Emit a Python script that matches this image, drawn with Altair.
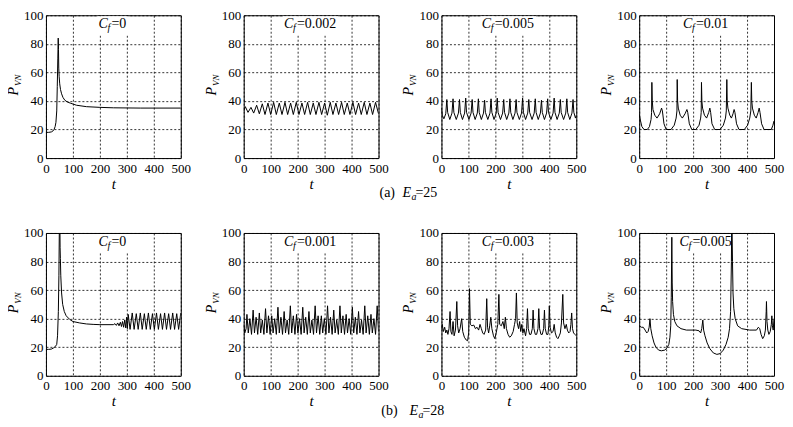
import altair as alt
import pandas as pd

FONT = "Liberation Serif"
T_TICKS = [0, 100, 200, 300, 400, 500]
P_TICKS = [0, 20, 40, 60, 80, 100]

# ---- (a) Ea = 25 ----
A_CF = ["0", "0.002", "0.005", "0.01"]
A1 = [(0, 18), (10, 18), (20, 18.3), (26, 19), (30, 20), (34, 22), (37, 25), (40, 33), (42, 50),
      (44, 70), (45.5, 84), (46.5, 76), (47.5, 63), (49, 57), (51, 52), (54, 48), (58, 45),
      (63, 42.5), (70, 40.5), (80, 39.2), (90, 38.5), (113, 37), (150, 36), (200, 35.5),
      (250, 35.2), (350, 35), (500, 35)]
A2 = [(0, 33), (6, 36), (16, 32), (27, 35.5), (37, 31.5), (48, 37), (58, 31), (69, 38), (79, 30.5),
      (90, 38.5), (100, 30.5), (111, 39), (121, 30.5), (132, 38.5), (142, 30.5), (153, 39),
      (163, 30.5), (174, 38.5), (184, 30.5), (195, 39), (205, 30.5), (216, 38.5), (226, 30.5),
      (237, 39), (247, 30.5), (258, 38.5), (268, 30.5), (279, 39), (289, 30.5), (300, 38.5),
      (310, 30), (321, 39), (331, 30.5), (342, 38.5), (352, 30.5), (363, 39), (373, 30.5),
      (384, 38.5), (394, 30.5), (405, 39), (415, 30.5), (426, 38.5), (436, 30.5), (447, 39),
      (457, 30.5), (468, 38.5), (478, 30.5), (489, 39), (500, 31)]
A3 = [(0, 35), (3, 30), (9, 27.5), (16, 31),
      (20, 41), (23, 32), (31, 27), (39, 31.5), (43, 41.5), (46, 32), (55, 27), (63, 31.5),
      (67, 41), (70, 32), (78, 27), (86, 31.5), (90, 42), (93, 32), (102, 27), (110, 31.5),
      (114, 41), (117, 32), (125, 27), (133, 31.5), (137, 41.5), (140, 32), (148, 27), (156, 31.5),
      (160, 40.5), (163, 32), (172, 27), (180, 31.5), (184, 41.5), (187, 32), (195, 27), (203, 31.5),
      (207, 42), (210, 32), (219, 27), (227, 31.5), (231, 41), (234, 32), (242, 27), (250, 31.5),
      (254, 41.5), (257, 32), (265, 27), (273, 31.5), (277, 41), (280, 32), (289, 27), (297, 31.5),
      (301, 42), (304, 32), (312, 27), (320, 31.5), (324, 41), (327, 32), (336, 27), (344, 31.5),
      (348, 41.5), (351, 32), (359, 27), (367, 31.5), (371, 40.5), (374, 32), (382, 27), (390, 31.5),
      (394, 41.5), (397, 32), (406, 27), (414, 31.5), (418, 42), (421, 32), (429, 27), (437, 31.5),
      (441, 41), (444, 32), (453, 27), (461, 31.5), (465, 41.5), (468, 32), (476, 27), (484, 31.5),
      (488, 41), (491, 32), (497, 28), (500, 30)]
A4 = [(0, 31), (5, 26), (10, 22), (18, 20), (30, 20), (38, 22), (44, 27), (46, 32), (47, 53),
      (48.5, 40), (51, 34), (58, 30), (66, 28), (76, 31), (83, 35), (86, 33), (92, 24), (100, 20),
      (118, 20), (130, 23), (137, 28), (140, 33), (141, 55), (142.5, 40), (145, 35), (152, 30),
      (160, 28), (170, 31), (177, 34), (180, 32), (186, 24), (195, 20), (210, 20), (222, 23),
      (228, 28), (230, 32), (231, 53), (232.5, 40), (235, 35), (242, 30), (250, 28), (258, 32),
      (262, 35), (265, 32), (270, 24), (280, 20), (300, 20), (312, 23), (320, 28), (323, 33),
      (325, 55), (326.5, 40), (329, 35), (336, 30), (342, 28), (348, 31), (352, 34), (355, 32),
      (361, 24), (370, 20), (390, 20), (402, 23), (410, 28), (414, 33), (416, 53), (417.5, 40),
      (420, 35), (427, 30), (434, 28), (441, 32), (445, 35), (448, 32), (454, 24), (463, 20),
      (490, 20), (496, 23), (500, 26)]

# ---- (b) Ea = 28 ----
B_CF = ["0", "0.001", "0.003", "0.005"]
B1 = [(0, 18.5), (10, 18.5), (20, 18.7), (28, 19.5), (35, 20.5), (40, 22), (43, 28), (46, 45),
      (48, 70), (50, 110), (51.5, 110), (52.5, 90), (53.5, 82), (55, 70), (58, 58), (62, 50),
      (68, 45), (75, 42), (88, 39.5), (100, 38), (125, 37), (150, 36.3), (175, 36), (200, 35.8),
      (250, 35.8), (256, 36.5), (261, 35.3), (266, 37), (271, 35), (276, 37.5), (280, 34.5),
      (284, 38), (288, 34), (292, 39), (296, 33.5), (299, 41), (302, 33), (305, 43), (312, 32.5),
      (320, 44), (327, 32.5), (335, 43.5), (342, 32.5), (350, 44), (357, 32.5), (365, 43.5),
      (372, 32.5), (380, 44), (387, 32.5), (395, 43.5), (402, 32.5), (410, 44), (417, 32.5),
      (425, 43.5), (432, 32.5), (440, 44), (447, 32.5), (455, 43.5), (462, 32.5), (470, 44),
      (477, 32.5), (485, 43.5), (492, 32.5), (500, 44)]
B2 = [(0, 36), (4, 30), (9, 33),
      (12, 43), (17, 30), (23, 40), (29, 29), (35, 46), (40, 30), (46, 41), (52, 29),
      (58, 44), (63, 30), (69, 39), (75, 29), (81, 47), (86, 30), (92, 42), (98, 29),
      (104, 42), (109, 30), (115, 40), (121, 29), (127, 48), (132, 30), (138, 41), (144, 29),
      (150, 45), (155, 30), (161, 39), (167, 29), (173, 49), (178, 30), (184, 42), (190, 29),
      (196, 43), (201, 30), (207, 40), (213, 29), (219, 48), (224, 30), (230, 41), (236, 29),
      (242, 45), (247, 30), (253, 39), (259, 29), (265, 49), (270, 30), (276, 42), (282, 29),
      (288, 42), (293, 30), (299, 40), (305, 29), (311, 49), (316, 30), (322, 41), (328, 29),
      (334, 46), (339, 30), (345, 39), (351, 29), (357, 49), (362, 30), (368, 42), (374, 29),
      (380, 43), (385, 30), (391, 40), (397, 29), (403, 48), (408, 30), (414, 41), (420, 29),
      (426, 45), (431, 30), (437, 39), (443, 29), (449, 49), (454, 30), (460, 42), (466, 29),
      (472, 43), (477, 30), (483, 40), (489, 29), (495, 49), (500, 31)]
B3 = [(0, 33), (3, 36), (7, 31), (12, 34), (16, 30), (20, 32), (24, 29), (28, 33), (32, 45), (35, 31),
      (39, 29), (43, 38), (47, 28), (52, 32), (57, 52), (60, 35), (64, 30), (69, 33), (75, 40),
      (79, 31), (85, 27), (92, 25), (97, 24.5), (101, 30), (104, 61), (107, 36), (113, 35),
      (120, 35.5), (126, 33), (132, 34), (138, 32), (143, 36), (148, 33), (153, 30), (158, 29),
      (164, 32), (168, 54), (171, 34), (175, 30), (179, 35), (183, 41), (187, 33), (193, 28),
      (198, 26), (203, 30), (209, 36), (213, 57), (216, 36), (222, 35), (228, 38), (233, 33),
      (237, 41), (241, 33), (247, 29), (253, 27), (259, 28), (266, 31), (271, 36), (275, 40),
      (278, 58), (281, 37), (286, 33), (290, 38), (294, 31), (298, 36), (302, 30), (306, 33),
      (312, 28), (316, 33), (319, 47), (322, 33), (327, 29), (332, 29), (337, 33), (340, 46),
      (343, 33), (348, 29), (353, 29), (358, 33), (361, 47), (364, 33), (369, 29), (374, 29),
      (379, 33), (382, 46), (385, 33), (390, 29), (395, 29), (398, 35), (400, 49), (403, 34),
      (408, 30), (414, 31), (418, 36), (422, 30), (427, 27), (432, 26), (437, 28), (441, 30),
      (445, 37), (450, 57), (453, 37), (458, 33), (463, 36), (467, 32), (472, 30), (477, 31),
      (480, 36), (483, 44), (486, 33), (490, 30), (495, 29), (500, 28)]
B4 = [(0, 35), (8, 34), (15, 34), (22, 32), (28, 30), (33, 31), (37, 34), (40, 40), (43, 33),
      (48, 28), (55, 23), (62, 20), (72, 18), (82, 17.5), (95, 18), (103, 19.5), (110, 22),
      (114, 27), (117, 35), (119, 55), (121, 97), (122.5, 65), (124, 52), (127, 43), (132, 38),
      (140, 35), (155, 33), (175, 32), (210, 32), (222, 31.5), (228, 30), (232, 33), (236, 39),
      (239, 32), (244, 28), (252, 23), (262, 19), (275, 16), (288, 15), (300, 15.5), (312, 18),
      (322, 22), (330, 27), (335, 33), (339, 45), (342, 80), (343, 110), (344, 110), (346, 80),
      (348, 58), (351, 47), (356, 40), (365, 35), (380, 33), (410, 32), (435, 32), (442, 34),
      (447, 33), (452, 29), (458, 26), (464, 28), (468, 32), (471, 45), (472, 52), (474, 38),
      (477, 32), (481, 29), (486, 31), (490, 36), (492, 42), (494, 35), (497, 32), (500, 40)]

CAPTIONS = [("(a)", "25"), ("(b)", "28")]

W, H = 135, 143
CHAR_W = {"=": 7.9, ".": 3.5}


def text_w(s):
    return sum(CHAR_W.get(ch, 7.0) for ch in s)


def one():
    return alt.Chart(pd.DataFrame({"k": [0]}))


def txt(text, x, y, size=14, italic=False, align="left", angle=0):
    kw = dict(text=text, font=FONT, fontSize=size, color="black", align=align,
              baseline="alphabetic", fontStyle="italic" if italic else "normal")
    if angle:
        kw["angle"] = angle
    return one().mark_text(**kw).encode(x=alt.value(x), y=alt.value(y))


def panel(points, cf, caption=None, cap_shift=0):
    df = pd.DataFrame(points, columns=["t", "p"])
    line = alt.Chart(df).mark_line(color="black", strokeWidth=1, clip=True).encode(
        x=alt.X("t:Q", scale=alt.Scale(domain=[0, 500], nice=False, zero=False),
                axis=alt.Axis(values=T_TICKS, title="t", labelPadding=4, titlePadding=1)),
        y=alt.Y("p:Q", scale=alt.Scale(domain=[0, 100], nice=False),
                axis=alt.Axis(values=P_TICKS, title=None, labelPadding=3)),
        order="t:Q",
    )
    val = "=" + cf
    wv = text_w(val)
    eq_x = W / 2 - (11 + wv) / 2 + 11
    rect = one().mark_rect(color="white").encode(
        x=alt.value(eq_x - 14), x2=alt.value(eq_x + wv + 2), y=alt.value(1), y2=alt.value(20))
    layers = [
        rect, line,
        txt("C", eq_x - 3.5, 13, italic=True, align="right"),
        txt("f", eq_x - 4, 16, size=10, italic=True),
        txt(val, eq_x, 13),
        txt("P", -28, 76, size=14, italic=True, align="center", angle=270),
        txt("VN", -25, 65, size=9, italic=True, align="center", angle=270),
    ]
    if caption is not None:
        lab, ea = caption
        s = cap_shift
        layers += [
            txt(lab, 136 + s / 4, 182),
            txt("E", 159 + s, 182, italic=True),
            txt("a", 168 + s, 185, size=10, italic=True),
            txt("=" + ea, 172 + s, 182),
        ]
    return alt.layer(*layers).properties(width=W, height=H)


panels = [
    panel(A1, A_CF[0]), panel(A2, A_CF[1], CAPTIONS[0], 0), panel(A3, A_CF[2]), panel(A4, A_CF[3]),
    panel(B1, B_CF[0]), panel(B2, B_CF[1], CAPTIONS[1], 7), panel(B3, B_CF[2]), panel(B4, B_CF[3]),
]

chart = alt.concat(
    *panels, columns=4, spacing={"row": 75, "column": 63}, bounds="flush"
).properties(
    padding={"left": -2, "top": 0, "right": 0, "bottom": 0},
).configure_axis(
    labelFont=FONT, labelFontSize=13, labelColor="black", labelOverlap=False, labelFlush=False,
    titleFont=FONT, titleFontSize=15, titleFontStyle="italic", titleFontWeight="normal",
    titleColor="black", grid=True, gridColor="black", gridDash=[2, 2], gridOpacity=1,
    gridWidth=0.8, domain=False, ticks=False,
).configure_view(stroke="black", strokeWidth=1)

chart.save("out.html", embed_options={"renderer": "svg", "actions": False})
